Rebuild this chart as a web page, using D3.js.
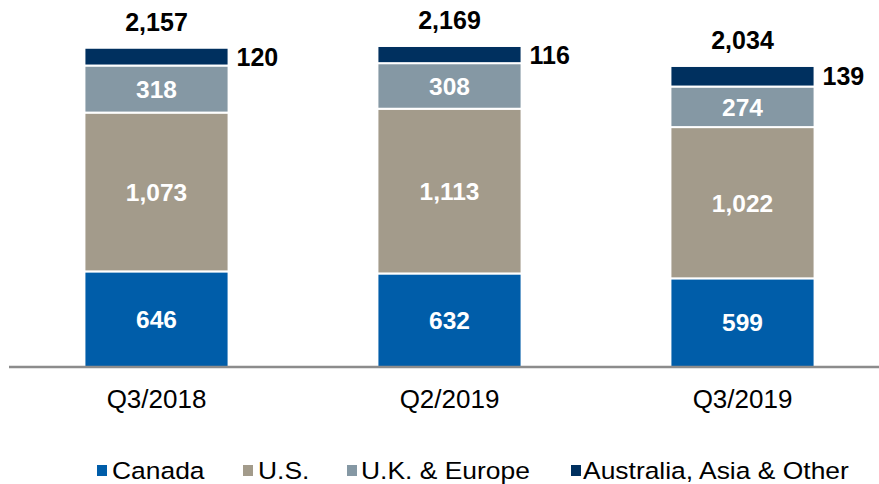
<!DOCTYPE html>
<html>
<head>
<meta charset="utf-8">
<script src="https://cdn.jsdelivr.net/npm/d3@7/dist/d3.min.js"></script>
<style>
  body { margin: 0; background: #fff; }
  svg { display: block; font-family: "Liberation Sans", Arial, sans-serif; }
</style>
</head>
<body>
<svg id="chart" width="879" height="484"></svg>
<script>
// Quarterly values by region
const periods = ["Q3/2018", "Q2/2019", "Q3/2019"];
const regions = ["Canada", "U.S.", "U.K. & Europe", "Australia, Asia & Other"];
const canada = [646, 632, 599];
const us = [1073, 1113, 1022];
const ukEurope = [318, 308, 274];
const australiaAsia = [120, 116, 139];
const totals = [2157, 2169, 2034];
const colors = ["#005DA9", "#A39B8B", "#8598A4", "#00305F"];

const series = [canada, us, ukEurope, australiaAsia];
const rows = periods.map((p, i) => {
  const r = { period: p };
  regions.forEach((k, j) => { r[k] = series[j][i]; });
  return r;
});

const svg = d3.select("#chart");
const baseY = 367;

const x = d3.scaleBand().domain(periods).range([10, 889]).paddingInner(0.508).paddingOuter(0.254);
const y = d3.scaleLinear().domain([0, 2200]).range([baseY, baseY - 2200 * 0.148]);

const stack = d3.stack().keys(regions)(rows);
const fmt = d3.format(",");

const groups = svg.selectAll("g.layer").data(stack).join("g")
  .attr("class", "layer")
  .attr("fill", (d, i) => colors[i]);

groups.selectAll("rect").data(d => d).join("rect")
  .attr("x", d => x(d.data.period))
  .attr("width", x.bandwidth())
  .attr("y", d => y(d[1]))
  .attr("height", d => y(d[0]) - y(d[1]))
  .attr("stroke", "#fff")
  .attr("stroke-width", 2);

// Segment value labels: inside for the three lower regions, beside the bar for the top one
stack.forEach((layer, li) => {
  layer.forEach(d => {
    const cx = x(d.data.period) + x.bandwidth() / 2;
    const cy = (y(d[0]) + y(d[1])) / 2;
    const v = d[1] - d[0];
    if (li < 3) {
      svg.append("text")
        .attr("x", cx).attr("y", cy).attr("dy", "0.36em")
        .attr("text-anchor", "middle")
        .attr("fill", "#fff").attr("font-weight", "bold").attr("font-size", 24.5)
        .text(fmt(v));
    } else {
      svg.append("text")
        .attr("x", x(d.data.period) + x.bandwidth() + 8).attr("y", cy).attr("dy", "0.36em")
        .attr("text-anchor", "start")
        .attr("fill", "#000").attr("font-weight", "bold").attr("font-size", 25)
        .text(fmt(v));
    }
  });
});

// Totals above each bar
svg.selectAll("text.total").data(periods).join("text")
  .attr("class", "total")
  .attr("x", p => x(p) + x.bandwidth() / 2)
  .attr("y", (p, i) => y(totals[i]) - 17)
  .attr("text-anchor", "middle")
  .attr("font-weight", "bold").attr("font-size", 25).attr("fill", "#000")
  .text((p, i) => fmt(totals[i]));

// Baseline axis with period labels
const axis = svg.append("g").attr("transform", `translate(0,${baseY})`)
  .call(d3.axisBottom(x).tickSize(0).tickPadding(23));
axis.select(".domain").attr("d", "M9,0H879").attr("stroke", "#8c8c8c").attr("stroke-width", 2.5);
axis.selectAll(".tick text").attr("font-size", 26).attr("fill", "#000")
  .attr("font-family", "Liberation Sans, Arial, sans-serif");

// Legend
const swatchX = [97, 243, 347, 571];
const labelX = [112, 258, 361, 583];
svg.selectAll("rect.swatch").data(regions).join("rect")
  .attr("class", "swatch")
  .attr("x", (d, i) => swatchX[i]).attr("y", 465)
  .attr("width", 10).attr("height", 11)
  .attr("fill", (d, i) => colors[i]);
svg.selectAll("text.legend").data(regions).join("text")
  .attr("class", "legend")
  .attr("transform", (d, i) => `translate(${labelX[i]},479) scale(1.125,1)`)
  .attr("font-size", 23.5).attr("fill", "#000")
  .text(d => d);
</script>
</body>
</html>
